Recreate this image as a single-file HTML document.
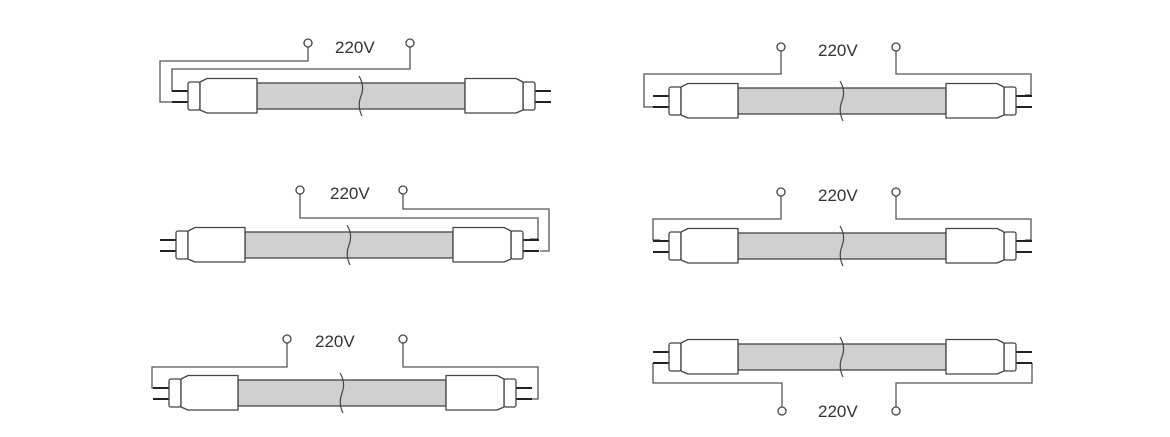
<!DOCTYPE html>
<html><head><meta charset="utf-8"><style>
html,body{margin:0;padding:0;background:#fff;}
svg{display:block;}
text{font-family:"Liberation Sans",sans-serif;font-size:17px;fill:#333;}
</style></head><body>
<svg width="1170" height="437" viewBox="0 0 1170 437" xmlns="http://www.w3.org/2000/svg">
<defs>
<g id="tube">
 <line x1="0" y1="-5" x2="18" y2="-5" stroke="#222" stroke-width="2"/>
 <line x1="0" y1="6" x2="18" y2="6" stroke="#222" stroke-width="2"/>
 <line x1="361" y1="-5" x2="379" y2="-5" stroke="#222" stroke-width="2"/>
 <line x1="361" y1="6" x2="379" y2="6" stroke="#222" stroke-width="2"/>
 <rect x="85" y="-13" width="208" height="26" fill="#d0d0d0" stroke="#444" stroke-width="1.3"/>
 <rect x="16" y="-14" width="12" height="28" rx="2" fill="#fff" stroke="#444" stroke-width="1.3"/>
 <rect x="351" y="-14" width="12" height="28" rx="2" fill="#fff" stroke="#444" stroke-width="1.3"/>
 <path d="M28,-14 L35,-17.5 L85,-17.5 L85,17 L35,17 L28,14 Z" fill="#fff" stroke="#444" stroke-width="1.3" stroke-linejoin="round"/>
 <path d="M293,-17.5 L344,-17.5 L351,-14 L351,14 L344,17 L293,17 Z" fill="#fff" stroke="#444" stroke-width="1.3" stroke-linejoin="round"/>
 <path d="M187,-20 Q193,-10 189,0 Q185,10 190,20" fill="none" stroke="#444" stroke-width="1.2"/>
</g>
</defs>
<g fill="none" stroke="#555" stroke-width="1.3">
 <!-- tube 1 -->
 <polyline points="308,47 308,61 160,61 160,102 172,102"/>
 <polyline points="410,47 410,69 172,69 172,91 180,91"/>
 <!-- tube 2 -->
 <polyline points="300,194 300,218 538,218 538,239 530,239"/>
 <polyline points="403,194 403,209 549,209 549,251 540,251"/>
 <!-- tube 3 -->
 <polyline points="287,343 287,367 152,367 152,388 162,388"/>
 <polyline points="403,343 403,367 538,367 538,399 530,399"/>
 <!-- right 1 -->
 <polyline points="781,51 781,74 644,74 644,107 653,107"/>
 <polyline points="896,51 896,74 1031,74 1031,95 1025,95"/>
 <!-- right 2 -->
 <polyline points="781,196 781,219 653,219 653,240 660,240"/>
 <polyline points="896,196 896,219 1031,219 1031,240 1025,240"/>
 <!-- right 3 -->
 <polyline points="653,363 653,383 782,383 782,407"/>
 <polyline points="1032,363 1032,383 896,383 896,407"/>
</g>
<use href="#tube" x="172" y="96"/>
<use href="#tube" x="160" y="245"/>
<use href="#tube" x="153" y="393"/>
<use href="#tube" x="653" y="101"/>
<use href="#tube" x="653" y="246"/>
<use href="#tube" x="653" y="357"/>
<g fill="#fff" stroke="#444" stroke-width="1.3">
 <circle cx="308" cy="43" r="4"/><circle cx="410" cy="43" r="4"/>
 <circle cx="300" cy="190" r="4"/><circle cx="403" cy="190" r="4"/>
 <circle cx="287" cy="339" r="4"/><circle cx="403" cy="339" r="4"/>
 <circle cx="781" cy="47" r="4"/><circle cx="896" cy="47" r="4"/>
 <circle cx="781" cy="192" r="4"/><circle cx="896" cy="192" r="4"/>
 <circle cx="782" cy="411" r="4"/><circle cx="896" cy="411" r="4"/>
</g>
<text x="335" y="53">220V</text>
<text x="330" y="199">220V</text>
<text x="315" y="347">220V</text>
<text x="818" y="56">220V</text>
<text x="818" y="201">220V</text>
<text x="818" y="417">220V</text>
</svg>
</body></html>
